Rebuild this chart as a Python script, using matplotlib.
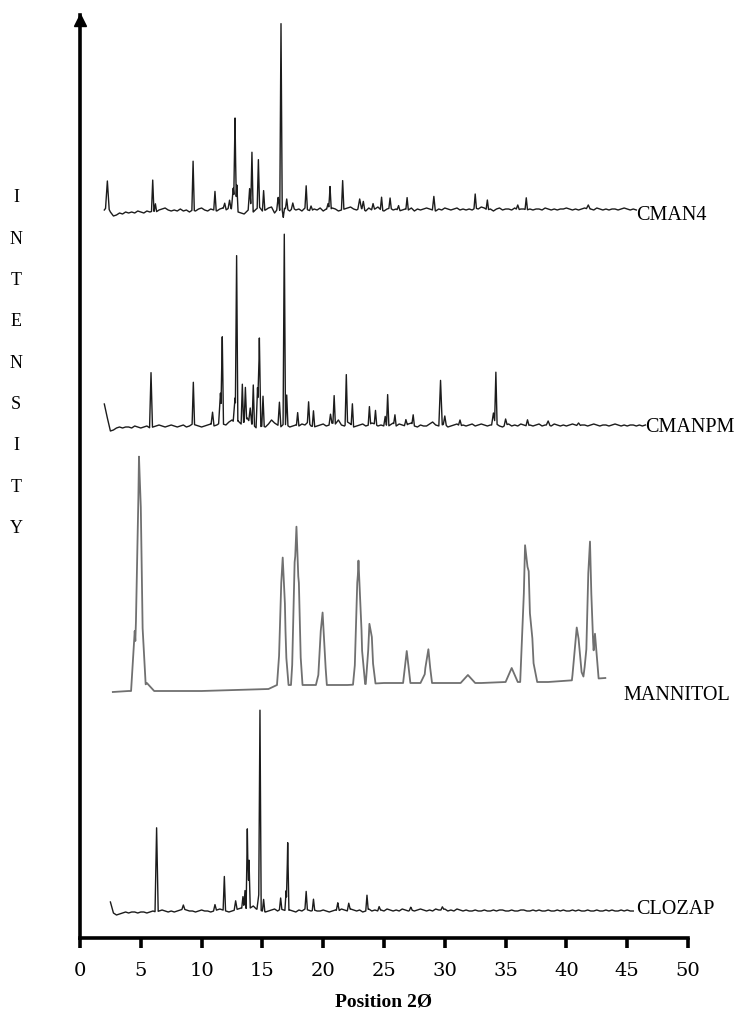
import matplotlib.pyplot as plt
import numpy as np

# x-axis ticks
xticks = [0, 5, 10, 15, 20, 25, 30, 35, 40, 45, 50]

# vertical offsets of each pattern (intensity units above the axis)
off_cman4 = 728
off_cmanpm = 512
off_mann = 250
off_clozap = 27

# ---- CMAN4 ----
cman4_start = 2.0
cman4_ripple = [
    0, 4, -2, -6, -5, -3, -4, -2, -3, -2, -3, -1, -2, -3, -1, -2, -1, -2, 0, 1,
    2, 0, -1, 0, -1, 1, -1, 0, -2, 0, -1, 1, 2, 0, -1, 1, 0, -1, 1, 2,
    0, 2, 1, 3, -2, -3, -4, -1, 2, -2, 1, 3, -1, 0, 2, 3, -3, 1, -1, 2,
    1, -1, 2, 0, 1, -1, 2, 0, -1, 1, 0, 2, -1, 1, 0, 2, 1, -1, 0, 1,
    2, 3, 1, 0, 2, 1, -1, 2, 0, 1, 3, 0, -1, 1, 2, 0, 1, -1, 0, 1,
    0, 2, -1, 1, 0, 1, 2, 1, 0, -1, 1, 0, 2, 1, 0, 1, 2, 0, 1, 0,
    1, 0, 2, 1, 3, 2, 0, 1, -1, 1, 2, 0, 1, 1, 0, 2, 0, 1, 1, 0,
    1, 0, 1, 1, 0, 2, 1, 0, 1, 0, 1, 1, 2, 1, 0, 1, 0, 1, 2, 1,
    1, 0, 2, 1, 0, 1, 0, 1, 1, 0, 1, 2, 1, 0, 1, 0]
cman4_pos = [2.25, 5.98, 6.2, 9.3, 11.1, 11.9, 12.3, 12.6, 12.75, 12.9, 13.95, 14.14,
             14.67, 15.1, 16.3, 16.53, 16.72, 17.0, 17.5, 18.6, 19.0, 20.4, 20.56,
             21.6, 23.0, 23.3, 24.1, 24.8, 25.5, 26.2, 26.9, 29.1, 32.5, 33.5, 36.0,
             36.7, 41.8]
cman4_h = [25, 31, 8, 49, 19, 6, 8, 20, 89, 25, 20, 58,
           48, 20, 12, 187, -9, 10, 5, 23, 5, 6, 23,
           29, 9, 8, 6, 13, 10, 5, 12, 14, 14, 10, 5,
           12, 4]
cman4_w = [0.15, 0.1, 0.1, 0.1, 0.1, 0.12, 0.12, 0.15, 0.1, 0.1, 0.12, 0.1,
           0.1, 0.1, 0.12, 0.1, 0.1, 0.1, 0.12, 0.1, 0.12, 0.12, 0.1,
           0.1, 0.15, 0.12, 0.12, 0.1, 0.1, 0.12, 0.1, 0.12, 0.1, 0.1, 0.12,
           0.1, 0.15]

# ---- CMANPM ----
cmanpm_start = 2.0
cmanpm_ripple = [
    22, 8, -5, -4, -2, -1, -2, -1, -1, -2, 0, -1, -2, -1, 0, -2, -1, 0, 1, 0,
    -1, 0, 1, 0, -1, 0, 1, -1, 0, 2, 1, 0, -1, 0, 1, 2, 0, 1, 3, 2,
    1, 4, 6, 3, 5, 2, 4, 8, 3, 1, -2, -1, 0, -1, 2, 6, 3, 1, -1, 2,
    1, -1, 0, 1, 0, 2, 1, 4, 0, -1, 0, 1, 2, 0, 1, 3, 2, 6, 1, 0,
    4, 2, -1, 0, 1, 2, 0, 1, 3, 2, 0, 1, 0, -1, 1, 3, 0, 2, 1, 0,
    2, 3, 0, -1, 1, 0, 0, 2, 4, 1, 0, 1, 2, -1, 0, 1, 2, 0, 1, 0,
    1, 2, 0, 1, 2, 1, 0, 1, 1, 2, 0, -1, 1, 2, 0, 1, 0, 2, 1, 0,
    1, 0, 1, 2, 0, 1, 1, 0, 2, 1, 0, 1, 0, 1, 2, 1, 0, 1, 1, 0,
    1, 2, 1, 0, 1, 1, 0, 1, 2, 1, 0, 1, 0, 1, 1, 0, 1, 0, 1]
cmanpm_pos = [5.84, 9.32, 10.9, 11.55, 11.7, 12.75, 12.88, 13.35, 13.6, 14.0, 14.25,
              14.6, 14.75, 15.05, 16.4, 16.8, 17.0, 17.9, 18.8, 19.2, 20.6, 20.9,
              21.9, 22.4, 23.8, 24.3, 25.1, 25.3, 25.9, 26.8, 27.4, 29.65, 30.0,
              31.25, 34.0, 34.2, 35.0, 36.8, 38.5, 41.0]
cmanpm_h = [55, 42, 13, 30, 87, 25, 163, 39, 33, 15, 40,
            40, 89, 30, 24, 190, 30, 13, 21, 16, 10, 28,
            49, 22, 18, 14, 10, 32, 10, 6, 10, 45, 8,
            6, 12, 52, 6, 6, 4, 3]
cmanpm_w = [0.12, 0.1, 0.12, 0.15, 0.1, 0.15, 0.1, 0.1, 0.1, 0.12, 0.1,
            0.12, 0.12, 0.1, 0.12, 0.1, 0.1, 0.1, 0.1, 0.1, 0.12, 0.1,
            0.1, 0.1, 0.1, 0.1, 0.12, 0.1, 0.1, 0.12, 0.1, 0.14, 0.12,
            0.12, 0.15, 0.1, 0.12, 0.12, 0.15, 0.15]

# ---- MANNITOL ----
mann_base_x = [2.7, 4.0, 5.6, 10.0, 15.5, 16.2, 20.8, 22.0, 25.0, 29.0, 33.0, 35.0, 38.5, 43.2]
mann_base_y = [-4, -3, -3, -3, -1, 3, 3, 3, 5, 5, 5, 6, 6, 10]
mann_pos = [4.5, 4.85, 5.0, 5.5, 16.55, 16.67, 16.85, 17.65, 17.8, 18.0, 19.8, 19.95,
            22.8, 22.9, 23.15, 23.8, 24.0, 26.87, 28.4, 28.65, 31.9, 35.5, 36.6,
            36.9, 37.2, 40.85, 41.0, 41.8, 41.94, 42.35]
mann_h = [60, 175, 95, 8, 60, 70, 45, 60, 110, 55, 20, 60,
          45, 85, 40, 50, 30, 32, 10, 30, 8, 14, 118,
          75, 25, 42, 15, 50, 105, 45]
mann_w = [0.3, 0.3, 0.4, 0.6, 0.35, 0.3, 0.3, 0.3, 0.35, 0.3, 0.4, 0.35,
          0.35, 0.3, 0.3, 0.3, 0.3, 0.3, 0.4, 0.3, 0.6, 0.5, 0.4,
          0.4, 0.4, 0.4, 0.5, 0.4, 0.3, 0.3]

# ---- CLOZAP ----
clozap_start = 2.5
clozap_ripple = [
    9, -2, -4, -3, -2, -1, -2, -1, -1, -2, -1, -1, -2, -1, 0, -1, 0, 1, 0, -1,
    0, -1, 0, 1, 2, 1, 0, 0, -1, 0, 1, 0, 0, -1, 0, 1, 2, 1, 0, -1,
    0, 1, 2, 3, 2, 0, 3, 5, 2, 1, 0, -1, 0, 1, 2, 0, 2, 1, 0, 1,
    0, -1, 1, 0, 2, 1, 0, 1, 0, 0, 1, 0, -1, 0, 1, 0, 2, 1, 0, 2,
    1, 0, 1, -1, 0, 2, 0, 1, 0, 1, 0, 2, 1, 0, 1, 0, 2, 1, 0, 1,
    0, 1, 2, 1, 0, 1, 0, 2, 1, 1, 2, 0, 1, 0, 2, 1, 0, 1, 0, 0,
    1, 0, 0, 1, 0, 0, 1, 0, 1, 1, 0, 0, 1, 0, 0, 1, 1, 0, 0, 1,
    0, 1, 0, 0, 1, 0, 0, 1, 0, 1, 0, 0, 1, 0, 1, 0, 0, 1, 0, 0,
    1, 0, 0, 1, 0, 1, 0, 0, 1, 0, 1, 0, 0]
clozap_pos = [6.3, 8.5, 11.1, 11.87, 12.8, 13.4, 13.57, 13.76, 13.9, 14.7, 14.8, 15.1,
              16.5, 16.95, 17.08, 18.6, 19.2, 21.2, 22.1, 23.6, 24.6, 27.2, 29.8]
clozap_h = [84, 4, 6, 34, 9, 12, 19, 82, 49, 15, 195, 12,
            11, 20, 68, 18, 11, 8, 7, 15, 4, 3, 3]
clozap_w = [0.13, 0.12, 0.12, 0.1, 0.12, 0.1, 0.1, 0.1, 0.1, 0.15, 0.1, 0.1,
            0.1, 0.1, 0.1, 0.1, 0.1, 0.12, 0.12, 0.1, 0.12, 0.12, 0.12]


def trace(bx, by, pos, h, w):
    bx = np.asarray(bx, float)
    by = np.asarray(by, float)
    xs = list(bx)
    for p, ww in zip(pos, w):
        xs += [p - ww, p, p + ww]
    xs = np.unique(np.clip(xs, bx[0], bx[-1]))
    ys = np.interp(xs, bx, by)
    for p, hh, ww in zip(pos, h, w):
        ys += hh * np.clip(1 - np.abs(xs - p) / ww, 0, None)
    return xs, ys


fig = plt.figure(figsize=(7.45, 10.15), dpi=100)
ax = fig.add_axes([80 / 745, 1 - 938 / 1015, 608 / 745, 923 / 1015])

dark = '#1c1c1c'
x, y = trace(cman4_start + 0.25 * np.arange(len(cman4_ripple)), cman4_ripple, cman4_pos, cman4_h, cman4_w)
ax.plot(x, y + off_cman4, color=dark, lw=1.0)
x, y = trace(cmanpm_start + 0.25 * np.arange(len(cmanpm_ripple)), cmanpm_ripple, cmanpm_pos, cmanpm_h, cmanpm_w)
ax.plot(x, y + off_cmanpm, color=dark, lw=1.0)
x, y = trace(mann_base_x, mann_base_y, mann_pos, mann_h, mann_w)
ax.plot(x, y + off_mann, color='#707070', lw=1.3)
x, y = trace(clozap_start + 0.25 * np.arange(len(clozap_ripple)), clozap_ripple, clozap_pos, clozap_h, clozap_w)
ax.plot(x, y + off_clozap, color=dark, lw=1.0)

lab = dict(family='Liberation Serif', fontsize=14.5, va='center', ha='left', clip_on=False)
ax.text(45.72, 723, 'CMAN4', **lab)
ax.text(46.46, 510, 'CMANPM', **lab)
ax.text(44.65, 243, 'MANNITOL', **lab)
ax.text(45.72, 29, 'CLOZAP', **lab)

ax.set_xlim(0, 50)
ax.set_ylim(0, 923)
ax.spines['top'].set_visible(False)
ax.spines['right'].set_visible(False)
ax.spines['left'].set_linewidth(2.6)
ax.spines['bottom'].set_linewidth(2.6)
ax.set_yticks([])
ax.set_xticks(xticks)
ax.tick_params(axis='x', direction='out', length=7, width=2.6, pad=10)
for t in ax.get_xticklabels():
    t.set_family('DejaVu Serif')
    t.set_fontsize(14)
ax.plot(0, 918, marker='^', color='black', markersize=9, clip_on=False)

ax.set_xlabel('Position 2Ø', family='Liberation Serif', fontweight='bold', fontsize=14, labelpad=10)

for i, ch in enumerate('INTENSITY'):
    fig.text(16 / 745, 1 - (198 + 41.3 * i) / 1015, ch, family='Liberation Serif',
             fontsize=13, ha='center', va='center')

fig.savefig('out.png', dpi=100)
